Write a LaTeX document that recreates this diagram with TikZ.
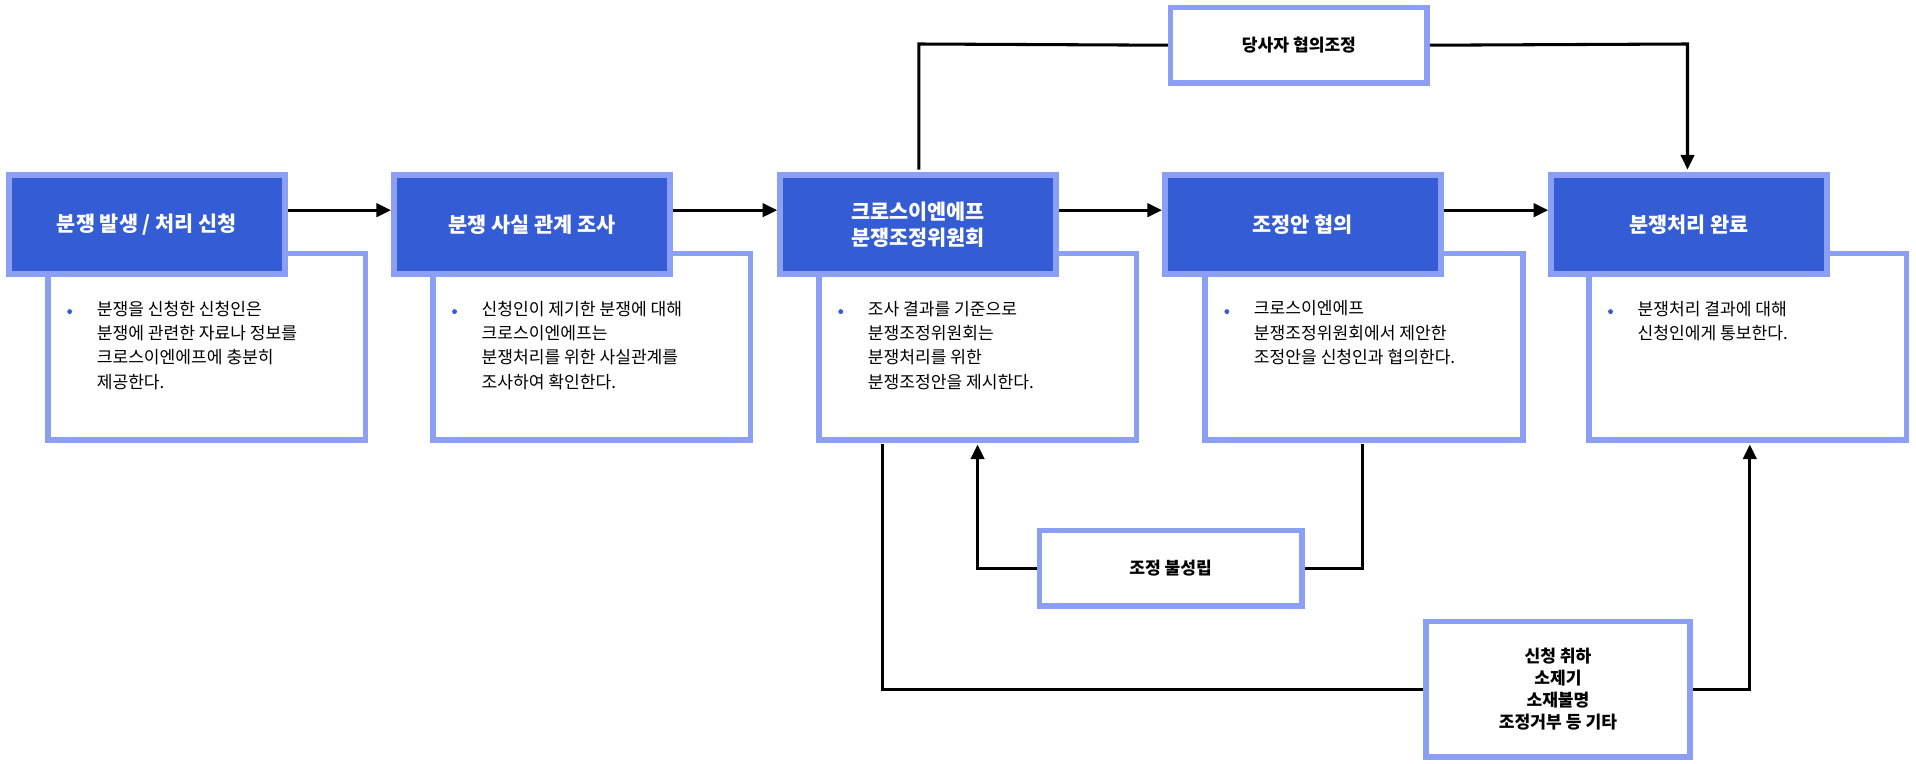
\documentclass[tikz,border=0pt]{standalone}
\usepackage{fontspec}
\setmainfont{Noto Sans CJK KR}
\usetikzlibrary{arrows.meta}
\definecolor{hb}{HTML}{345CD4}
\definecolor{lb}{HTML}{8BA0F5}
\begin{document}
\begin{tikzpicture}[x=1pt,y=-1pt,
 head/.style={draw=lb,line width=4.5pt,fill=hb,text=white,font=\bfseries\fontsize{17}{21}\selectfont,align=center,anchor=north west,minimum width=226pt,minimum height=81pt,inner sep=0pt},
 desc/.style={draw=lb,line width=4.5pt,fill=white,anchor=north west,minimum width=260pt,minimum height=153pt,inner sep=0pt},
 dtext/.style={anchor=north west,align=left,font=\fontsize{14}{20}\selectfont,inner sep=0pt},
 lab/.style={draw=lb,line width=4.5pt,fill=white,font=\bfseries\fontsize{14}{18}\selectfont,align=center,inner sep=0pt},
 con/.style={line width=2.5pt},
 arr/.style={con,-{Triangle[length=12pt,width=11pt]}}]
\useasboundingbox (0,0) rectangle (1568,625);
\foreach \i/\x in {1/37,2/352,3/668,4/984,5/1298}{
  \node[desc] (d\i) at (\x,205) {};
  \fill[hb] (\x+20,255) circle (2pt);
}
\node[dtext] at (79,246) {분쟁을 신청한 신청인은\\분쟁에 관련한 자료나 정보를\\크로스이엔에프에 충분히\\제공한다.};
\node[dtext] at (394,246) {신청인이 제기한 분쟁에 대해\\크로스이엔에프는\\분쟁처리를 위한 사실관계를\\조사하여 확인한다.};
\node[dtext] at (710,246) {조사 결과를 기준으로\\분쟁조정위원회는\\분쟁처리를 위한\\분쟁조정안을 제시한다.};
\node[dtext] at (1026,246) {크로스이엔에프\\분쟁조정위원회에서 제안한\\조정안을 신청인과 협의한다.};
\node[dtext] at (1340,246) {분쟁처리 결과에 대해\\신청인에게 통보한다.};
\node[head] (h1) at (5,141) {분쟁 발생 / 처리 신청};
\node[head] (h2) at (320,141) {분쟁 사실 관계 조사};
\node[head] (h3) at (636,141) {크로스이엔에프\\분쟁조정위원회};
\node[head] (h4) at (951,141) {조정안 협의};
\node[head] (h5) at (1267,141) {분쟁처리 완료};
\node[lab,minimum width=210pt,minimum height=62pt] (t) at (1063,37) {당사자 협의조정};
\node[lab,minimum width=215pt,minimum height=62pt] (f) at (958,465) {조정 불성립};
\node[lab,minimum width=216pt,minimum height=111pt] (b) at (1275,564) {신청 취하\\소제기\\소재불명\\조정거부 등 기타};
\foreach \a/\b in {1/2,2/3,3/4,4/5}{
  \draw[arr] (h\a.east|-0,172) -- (h\b.west|-0,172);
}
\draw[con] (752,138.75) -- (752,36) -- (t.west);
\draw[arr] (t.east) -- (1381,36) -- (1381,138.75);
\draw[con] (1115,363.75) -- (1115,465) -- (f.east);
\draw[arr] (f.west) -- (800,465) -- (800,363.75);
\draw[con] (722,363.75) -- (722,564) -- (b.west);
\draw[arr] (b.east) -- (1432,564) -- (1432,363.75);
\end{tikzpicture}
\end{document}
